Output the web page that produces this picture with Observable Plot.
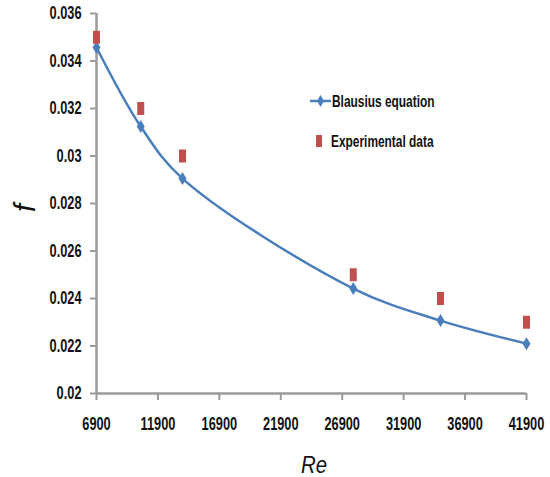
<!DOCTYPE html>
<html>
<head>
<meta charset="utf-8">
<script src="https://cdn.jsdelivr.net/npm/d3@7"></script>
<script src="https://cdn.jsdelivr.net/npm/@observablehq/plot@0.6"></script>
<style>
  html, body { margin: 0; padding: 0; background: #fff; }
  #wrap { position: relative; width: 550px; height: 477px; }
</style>
</head>
<body>
<div id="wrap"></div>
<script>
const re = [6900, 10500, 13900, 27800, 34900, 41900];
const blasius = [0.03457, 0.03124, 0.02905, 0.02442, 0.02307, 0.0221];
const experimental = [0.035, 0.032, 0.030, 0.025, 0.024, 0.023];
const xTicks = [6900, 11900, 16900, 21900, 26900, 31900, 36900, 41900];
const yTicks = [0.02, 0.022, 0.024, 0.026, 0.028, 0.03, 0.032, 0.034, 0.036];
const seriesNames = ["Blausius equation", "Experimental data"];

const blue = "#4a7ebb";
const red = "#c0504d";
const axisGray = "#9a9a9a";

const bData = re.map((r, i) => ({re: r, f: blasius[i]}));
const eData = re.map((r, i) => ({re: r, f: experimental[i]}));

const diamond = {draw(ctx) { ctx.moveTo(0, -6.5); ctx.lineTo(4, 0); ctx.lineTo(0, 6.5); ctx.lineTo(-4, 0); ctx.closePath(); }};
const tallRect = {draw(ctx) { ctx.rect(-3.5, -6.5, 7, 13); }};

const font = '"Liberation Sans", Arial, sans-serif';
const SX = 0.71;

const chart = Plot.plot({
  width: 550,
  height: 477,
  marginLeft: 96,
  marginRight: 24,
  marginTop: 13,
  marginBottom: 84,
  style: {fontFamily: font, fontSize: "18px", fontWeight: "bold", color: "#111", background: "#fff"},
  x: {domain: [6900, 41900], ticks: xTicks, tickFormat: d => String(d), label: null},
  y: {domain: [0.02, 0.036], ticks: yTicks, tickFormat: d => String(+d.toFixed(3)), label: null},
  marks: [
    Plot.axisX({ticks: xTicks, tickFormat: d => String(d), tickSize: 7, tickPadding: 17, stroke: axisGray, strokeWidth: 2, fill: "#111", fontSize: 18, fontWeight: "bold", label: null}),
    Plot.axisY({ticks: yTicks, tickFormat: d => String(+d.toFixed(3)), tickSize: 6, tickPadding: 9, stroke: axisGray, strokeWidth: 2, fill: "#111", fontSize: 18, fontWeight: "bold", label: null}),
    Plot.ruleX([6900], {stroke: axisGray, strokeWidth: 2.5}),
    Plot.ruleY([0.02], {stroke: axisGray, strokeWidth: 2.5}),
    Plot.line(bData, {x: "re", y: "f", stroke: blue, strokeWidth: 2.5, curve: "catmull-rom"}),
    Plot.dot(bData, {x: "re", y: "f", symbol: diamond, fill: blue, stroke: "none"}),
    Plot.dot(eData, {x: "re", y: "f", symbol: tallRect, fill: red, stroke: "none"})
  ]
});

const svg = d3.select(chart);

const reLabel = svg.append("text")
  .attr("x", 314).attr("y", 473)
  .attr("text-anchor", "middle")
  .attr("font-family", font).attr("font-style", "italic").attr("font-weight", "normal")
  .attr("font-size", 24).attr("fill", "#111")
  .text("Re");
svg.append("text")
  .attr("transform", "translate(35,208) rotate(-90)")
  .attr("text-anchor", "middle")
  .attr("font-family", font).attr("font-style", "italic").attr("font-weight", "normal")
  .attr("font-size", 29).attr("fill", "#111")
  .text("f");

// legend
const lg = svg.append("g").attr("font-family", font).attr("font-size", 17).attr("font-weight", "bold").attr("fill", "#111").attr("text-anchor", "start");
const l1 = lg.append("g").attr("transform", "translate(310,101)");
l1.append("line").attr("x1", 0).attr("x2", 21).attr("stroke", blue).attr("stroke-width", 2.5);
l1.append("path").attr("d", "M10.5,-6 L14,0 L10.5,6 L7,0 Z").attr("fill", blue);
const lt1 = l1.append("text").attr("x", 22).attr("dy", "0.35em").text(seriesNames[0]);
const l2 = lg.append("g").attr("transform", "translate(310,141)");
l2.append("rect").attr("x", 6).attr("y", -6).attr("width", 6).attr("height", 12).attr("fill", red);
const lt2 = l2.append("text").attr("x", 21).attr("dy", "0.35em").text(seriesNames[1]);

document.getElementById("wrap").appendChild(chart);

// condense texts horizontally (narrow Calibri-like look) using textLength
function condense(node, s) {
  const w = node.getComputedTextLength();
  if (w > 0) {
    node.setAttribute("textLength", (w * s).toFixed(2));
    node.setAttribute("lengthAdjust", "spacingAndGlyphs");
  }
}
svg.selectAll('g[aria-label$="tick label"] text').each(function() { condense(this, SX); });
condense(lt1.node(), 0.7);
condense(lt2.node(), 0.7);
condense(reLabel.node(), 0.85);
</script>
</body>
</html>
